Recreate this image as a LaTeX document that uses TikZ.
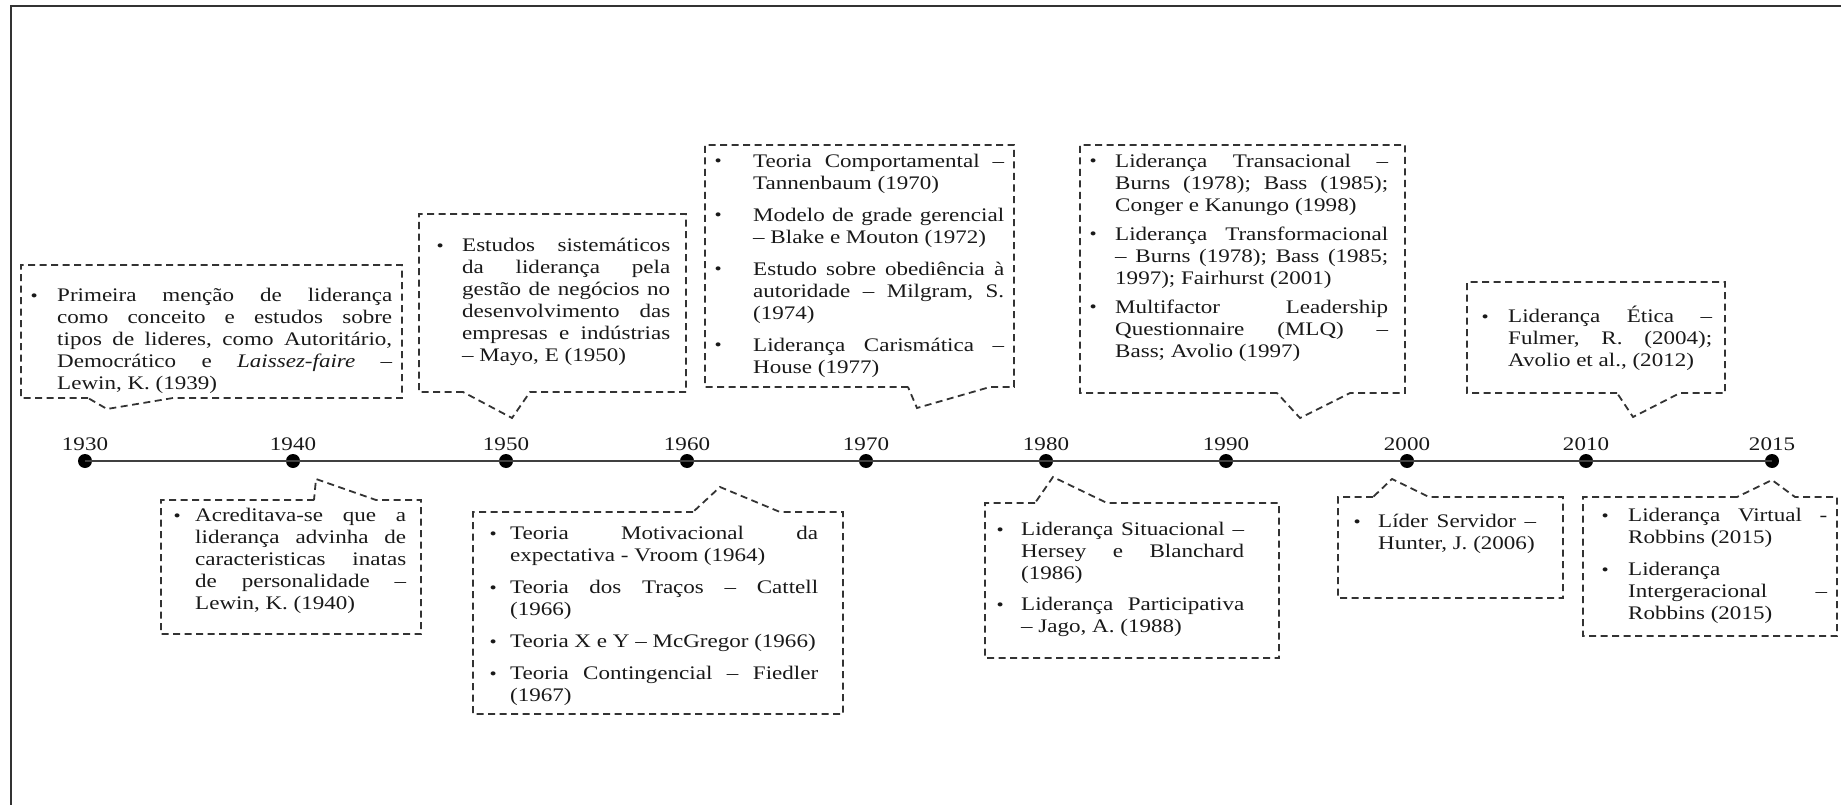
\documentclass[tikz,border=0pt]{standalone}
\usepackage{fontspec}
\setmainfont{Liberation Serif}[FakeStretch=1.2]
\AtBeginDocument{\frenchspacing}
\newlength\lw
\newlength\bd
\newcommand\jl[1]{\hbox to \lw{\strut\spaceskip=0.25em plus 1fil minus 0.06em\relax #1}}
\newcommand\el[1]{\hbox{\strut #1}}
\newcommand\bu{\llap{\raisebox{0.5pt}{\fontsize{17}{17}\selectfont •}\hspace{\dimexpr\bd-3.5pt\relax}}}
% name, x, baseline, width, bullet distance, content
\newcommand\tb[6]{\node[txt] (#1) at (#2,#3-15.4) {\setlength\lw{#4pt}\setlength\bd{#5pt}\vtop{\hsize\lw #6}};}
% callout with pointer below: L T R B baseL tipx tipy baseR
\newcommand\calldown[9]{\draw[cdash] (#6,#5) -- (#2,#5) -- (#2,#3) -- (#4,#3) -- (#4,#5) -- (#9,#5) -- (#7,#8) coordinate (#1) -- cycle;}
% callout with pointer above
\newcommand\callup[9]{\draw[cdash] (#6,#3) -- (#2,#3) -- (#2,#5) -- (#4,#5) -- (#4,#3) -- (#9,#3) -- (#7,#8) coordinate (#1) -- cycle;}
\tikzset{
 cdash/.style={draw=black!80, line width=1.8pt, dash pattern=on 7pt off 4.5pt},
 txt/.style={anchor=north west, inner sep=0pt, font=\fontsize{19.2}{22}\selectfont, text=black!90},
 yr/.style={anchor=base, inner sep=0pt, font=\fontsize{19.2}{22}\selectfont, text=black!90},
 dot/.style={circle, fill=black, inner sep=0pt, minimum size=14pt},
 frame/.style={line width=2pt, draw=black!80},
 tline/.style={line width=2.5pt, draw=black!75},
}
\begin{document}
\begin{tikzpicture}[x=1pt,y=-1pt]
\useasboundingbox (0,0) rectangle (1841,805);
\draw[frame] (11,805) -- (11,6) -- (1841,6);

% timeline
\foreach \yy/\xx in {1930/85,1940/293,1950/506,1960/687,1970/866,1980/1046,1990/1226,2000/1407,2010/1586,2015/1772}{
  \node[dot] (d\yy) at (\xx,461) {};
  \node[yr] (y\yy) at (\xx,450) {\yy};
}
\draw[tline] (d1930.center) -- (d2015.center);

% callouts above
\calldown{p1}{21}{265}{402}{398}{88}{107}{409}{173}
\calldown{p2}{419}{214}{686}{392}{463}{512}{418}{530}
\calldown{p3}{705}{145}{1014}{387}{908}{917}{408}{990}
\calldown{p4}{1080}{145}{1405}{393}{1277}{1300}{418}{1350}
\calldown{p5}{1467}{282}{1725}{393}{1617}{1633}{417}{1680}
% callouts below
\callup{p6}{161}{500}{421}{634}{314}{316}{479}{376}
\callup{p7}{473}{512}{843}{714}{693}{720}{487}{780}
\callup{p8}{985}{503}{1279}{658}{1035}{1053}{477}{1107}
\callup{p9}{1338}{497}{1563}{598}{1373}{1392}{479}{1429}
\callup{p10}{1583}{497}{1837}{636}{1737}{1772}{480}{1795}

% texts
\tb{t1}{57}{301.3}{335}{23}{%
\jl{\bu Primeira menção de liderança}%
\jl{como conceito e estudos sobre}%
\jl{tipos de lideres, como Autoritário,}%
\jl{Democrático e \textit{Laissez-faire} –}%
\el{Lewin, K. (1939)}}

\tb{t2}{462}{251.3}{208}{22}{%
\jl{\bu Estudos sistemáticos}%
\jl{da liderança pela}%
\jl{gestão de negócios no}%
\jl{desenvolvimento das}%
\jl{empresas e indústrias}%
\el{– Mayo, E (1950)}}

\tb{t3}{753}{167.3}{251}{35}{%
\jl{\bu Teoria Comportamental –}%
\el{Tannenbaum (1970)}\kern10pt
\jl{\bu Modelo de grade gerencial}%
\el{– Blake e Mouton (1972)}\kern10pt
\jl{\bu Estudo sobre obediência à}%
\jl{autoridade – Milgram, S.}%
\el{(1974)}\kern10pt
\jl{\bu Liderança Carismática –}%
\el{House (1977)}}

\tb{t4}{1115}{167.3}{273}{22}{%
\jl{\bu Liderança Transacional –}%
\jl{Burns (1978); Bass (1985);}%
\el{Conger e Kanungo (1998)}\kern7pt
\jl{\bu Liderança Transformacional}%
\jl{– Burns (1978); Bass (1985;}%
\el{1997); Fairhurst (2001)}\kern7pt
\jl{\bu Multifactor Leadership}%
\jl{Questionnaire (MLQ) –}%
\el{Bass; Avolio (1997)}}

\tb{t5}{1508}{321.3}{204}{23}{%
\jl{\bu Liderança Ética –}%
\jl{Fulmer, R. (2004);}%
\el{Avolio et al., (2012)}}

\tb{t6}{195}{521.3}{211}{18}{%
\jl{\bu Acreditava-se que a}%
\jl{liderança advinha de}%
\jl{caracteristicas inatas}%
\jl{de personalidade –}%
\el{Lewin, K. (1940)}}

\tb{t7}{510}{539.3}{308}{17}{%
\jl{\bu Teoria Motivacional da}%
\el{expectativa - Vroom (1964)}\kern10pt
\jl{\bu Teoria dos Traços – Cattell}%
\el{(1966)}\kern10pt
\el{\bu Teoria X e Y – McGregor (1966)}\kern10pt
\jl{\bu Teoria Contingencial – Fiedler}%
\el{(1967)}}

\tb{t8}{1021}{535.3}{223}{21}{%
\jl{\bu Liderança Situacional –}%
\jl{Hersey e Blanchard}%
\el{(1986)}\kern9pt
\jl{\bu Liderança Participativa}%
\el{– Jago, A. (1988)}}

\tb{t9}{1378}{527.3}{158}{21}{%
\jl{\bu Líder Servidor –}%
\el{Hunter, J. (2006)}}

\tb{t10}{1628}{521.3}{199}{23}{%
\jl{\bu Liderança Virtual -}%
\el{Robbins (2015)}\kern10pt
\el{\bu Liderança}%
\jl{Intergeracional –}%
\el{Robbins (2015)}}
\end{tikzpicture}
\end{document}
